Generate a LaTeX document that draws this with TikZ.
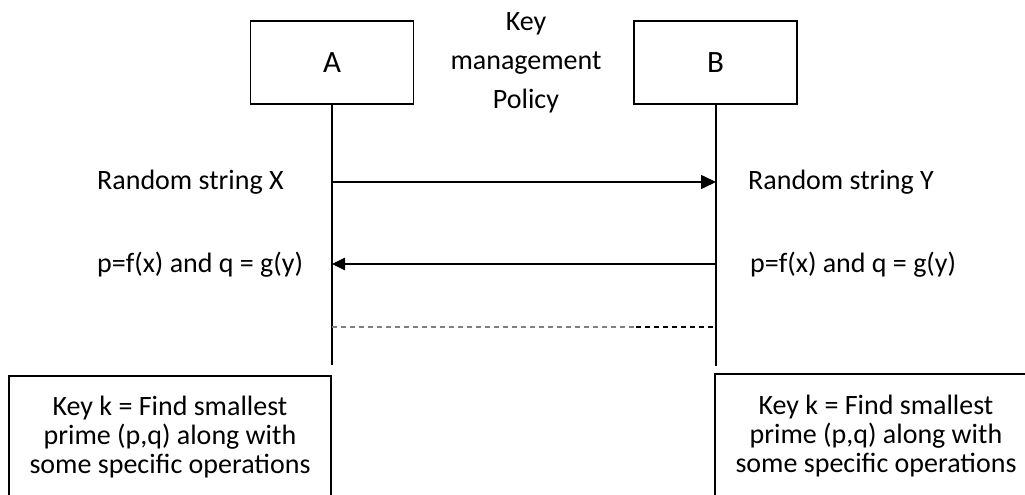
\documentclass[tikz,border=0pt]{standalone}
\usepackage{fontspec}
\setmainfont{Carlito}
\usetikzlibrary{arrows.meta}
\begin{document}
\begin{tikzpicture}[x=1pt,y=-1pt,
  txt/.style={font=\fontsize{28}{29}\selectfont, inner sep=0pt},
  actor/.style={draw, line width=1.3pt, minimum width=163pt, minimum height=83pt, inner sep=0pt, font=\fontsize{31}{32}\selectfont},
  keybox/.style={draw, line width=1.3pt, minimum width=322pt, minimum height=122pt, inner sep=0pt, align=center, font=\fontsize{28}{29}\selectfont},
  life/.style={line width=1.3pt},
  msg/.style={line width=1.6pt, -{Triangle[length=15pt,width=14pt]}},
  msgb/.style={line width=2.8pt, -{Triangle[length=13pt,width=12pt]}},
]
\useasboundingbox (0,0) rectangle (1025,495);
\node[actor] (A) at (332,62.5) {A};
\node[actor] (B) at (715.5,62.5) {B};
\node[txt, align=center, font=\fontsize{28}{39}\selectfont] (pol) at (526,63) {Key\\management\\Policy};
\coordinate (Aend) at (332,365);
\coordinate (Bend) at (716,366);
\draw[life] (A.south) -- (Aend);
\draw[life] (B.south -| Bend) -- (Bend);
\coordinate (a1) at (332,182);
\coordinate (b1) at (716,182);
\coordinate (a2) at (332,264);
\coordinate (b2) at (716,264);
\coordinate (a3) at (332,327);
\coordinate (m3) at (636,327);
\coordinate (b3) at (716,327);
\draw[msg] (a1) -- (b1);
\draw[msgb] (b2) -- (a2);
\draw[gray, line width=1.3pt, dash pattern=on 5pt off 4pt] (a3) -- (m3);
\draw[black, line width=1.3pt, dash pattern=on 5pt off 4pt] (m3) -- (b3);
\node[txt, anchor=west] (rx) at (97,182) {Random string X};
\node[txt, anchor=west] (ry) at (748,182) {Random string Y};
\node[txt, anchor=west] (px) at (97,265) {p=f(x) and q = g(y)};
\node[txt, anchor=west] (py) at (750,265) {p=f(x) and q = g(y)};
\node[keybox] (KA) at (170,437) {Key k = Find smallest\\prime (p,q) along with\\some specific operations};
\node[keybox, minimum height=124pt] (KB) at (876,436) {Key k = Find smallest\\prime (p,q) along with\\some specific operations};
\end{tikzpicture}
\end{document}
